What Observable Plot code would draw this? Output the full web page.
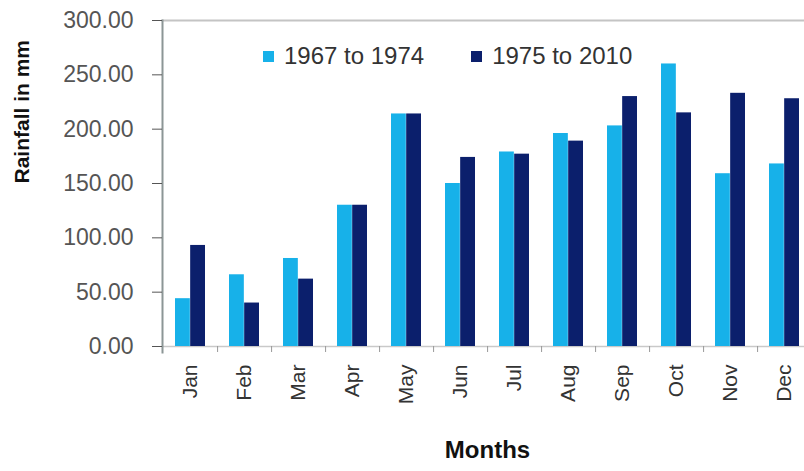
<!DOCTYPE html>
<html>
<head>
<meta charset="utf-8">
<script src="https://cdn.jsdelivr.net/npm/d3@7"></script>
<script src="https://cdn.jsdelivr.net/npm/@observablehq/plot@0.6"></script>
<style>
  html, body { margin: 0; padding: 0; background: #fff; }
  #wrap { position: relative; width: 804px; height: 471px; overflow: hidden; font-family: "Liberation Sans", Arial, sans-serif; }
  #wrap svg { max-width: none !important; }
  #legend { position: absolute; left: 263px; top: 42px; display: flex; font-size: 24px; color: #333; }
  .item { display: flex; align-items: center; }
  .sw { width: 11px; height: 11px; margin-right: 10px; }
</style>
</head>
<body>
<div id="wrap">
  <div id="legend"></div>
</div>
<script>
const months = ["Jan","Feb","Mar","Apr","May","Jun","Jul","Aug","Sep","Oct","Nov","Dec"];
const seriesNames = ["1967 to 1974", "1975 to 2010"];
const rain1967to1974 = [44, 66, 81, 130, 214, 150, 179, 196, 203, 260, 159, 168];
const rain1975to2010 = [93, 40, 62, 130, 214, 174, 177, 189, 230, 215, 233, 228];
const yTicks = [0, 50, 100, 150, 200, 250, 300];
const colors = ["#17b1e9", "#0b1f6c"];

const data1 = months.map((m, i) => ({month: m, value: rain1967to1974[i]}));
const data2 = months.map((m, i) => ({month: m, value: rain1975to2010[i]}));

const width = 820, marginLeft = 162, marginRight = 8;
const padIn = 0.44;
const step = (width - marginLeft - marginRight) / months.length;
const half = step * (1 - padIn) / 2;

const chart = Plot.plot({
  width,
  height: 471,
  marginLeft,
  marginRight,
  marginTop: 20,
  marginBottom: 125,
  style: {fontFamily: "'Liberation Sans', Arial, sans-serif", background: "transparent", maxWidth: "none"},
  x: {domain: months, paddingInner: padIn, paddingOuter: padIn / 2},
  y: {domain: [0, 300]},
  marks: [
    Plot.frame({anchor: "top", stroke: "#c4c4c4", strokeWidth: 2}),
    Plot.ruleY([0], {stroke: "#c9c9c9", strokeWidth: 1.5}),
    Plot.barY(data1, {x: "month", y: "value", fill: colors[0], insetRight: half, insetLeft: 0}),
    Plot.barY(data2, {x: "month", y: "value", fill: colors[1], insetLeft: half, insetRight: 0}),
    Plot.ruleX(months.slice(0, -1), {x: d => d, y1: 0, y2: 0, dx: step / 2, dy: 3, insetTop: -3, insetBottom: -3, stroke: "#999"}),
    Plot.frame({anchor: "left", stroke: "#8c9696", strokeWidth: 2, insetBottom: -6}),
    Plot.axisY({ticks: yTicks, tickFormat: d3.format(".2f"), tickSize: 10, tickPadding: 19, fontSize: 23, color: "#555", label: null}),
    Plot.axisX({tickRotate: -90, tickSize: 0, tickPadding: 18, fontSize: 21, color: "#333", label: null}),
    Plot.text(["Rainfall in mm"], {frameAnchor: "left", rotate: -90, dx: -140, fontWeight: "bold", fontSize: 21, fill: "#111"}),
    Plot.text(["Months"], {frameAnchor: "bottom", dy: 111, fontWeight: "bold", fontSize: 24, fill: "#111"})
  ]
});
document.getElementById("wrap").prepend(chart);

const legend = document.getElementById("legend");
seriesNames.forEach((name, i) => {
  const it = document.createElement("div");
  it.className = "item";
  it.style.marginRight = i === 0 ? "47px" : "0";
  const sw = document.createElement("span");
  sw.className = "sw";
  sw.style.background = colors[i];
  const t = document.createElement("span");
  t.textContent = name;
  it.append(sw, t);
  legend.append(it);
});
</script>
</body>
</html>
